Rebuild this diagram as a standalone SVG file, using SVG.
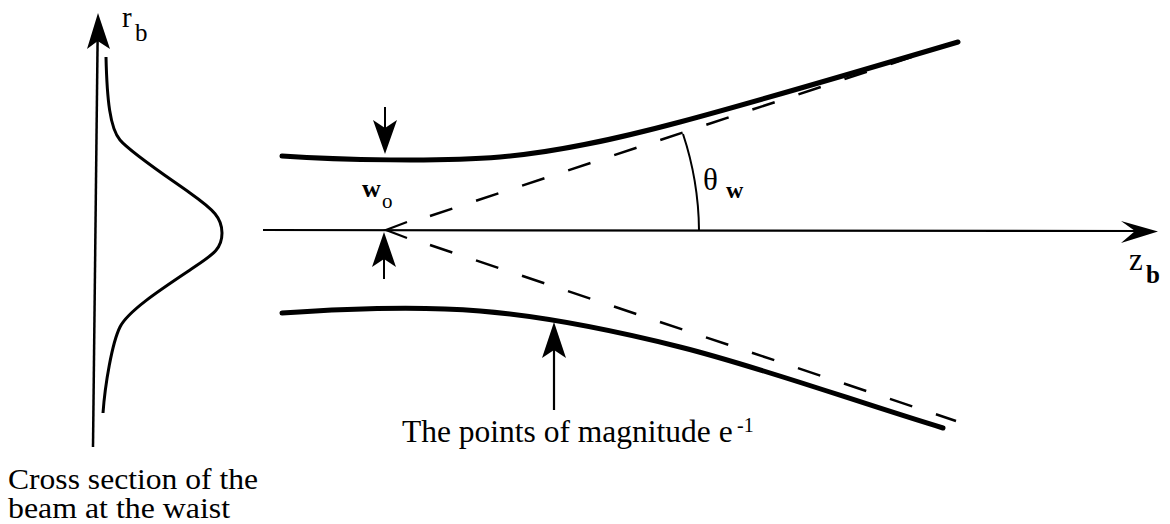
<svg xmlns="http://www.w3.org/2000/svg" width="1170" height="524" viewBox="0 0 1170 524">
<style>
  .t { font-family: "Liberation Serif", "Times New Roman", serif; fill: #000; }
  .ln { fill: none; stroke: #000; }
  .beam { fill: none; stroke: #000; stroke-width: 5; stroke-linecap: round; }
  .dash { fill: none; stroke: #000; stroke-width: 2.5; stroke-dasharray: 23.5 25; }
  .head { fill: #000; stroke: none; }
</style>
<rect width="1170" height="524" fill="#fff"/>

<g id="cross-section">
  <line class="ln" x1="93" y1="447" x2="97.6" y2="40" stroke-width="2.5"/>
  <path class="head" d="M98,13 L110,49 L97.7,41 L87,49 Z"/>
  <path class="ln" stroke-width="3" d="M106,57 C107,100 110,128 120,140 C130,152 166,176 190,193 C214,210 222,218 222,233 C222,250 212,255 190,270 C160,290 128,311 120,327 C112,343 105,385 103,413"/>
  <text class="t" x="122" y="27" font-size="29">r</text>
  <text class="t" x="135" y="41" font-size="25">b</text>
  <text class="t" x="8" y="489" font-size="29" textLength="250" lengthAdjust="spacingAndGlyphs">Cross section of the</text>
  <text class="t" x="8" y="518" font-size="29" textLength="222" lengthAdjust="spacingAndGlyphs">beam at the waist</text>
</g>

<g id="beam">
  <path class="beam" d="M282,156 C340,160 440,162 500,157 C560,152 620,138 680,122 C740,106 860,71 958,42"/>
  <path class="beam" d="M282,313 C340,309 420,306 480,311 C540,316 600,327 680,347 C760,367 860,403 943,428"/>
  <line class="dash" x1="430" y1="216" x2="957" y2="42"/>
  <line class="dash" x1="430" y1="245" x2="956" y2="421"/>
</g>

<g id="z-axis">
  <line class="ln" x1="263" y1="230" x2="1140" y2="231" stroke-width="2.2"/>
  <path class="head" d="M1158,231.5 L1121,221 L1135,231 L1121,243 Z"/>
  <text class="t" x="1129" y="270" font-size="31">z</text>
  <text class="t" x="1146" y="283" font-size="25" font-weight="bold">b</text>
</g>

<g id="waist">
  <text class="t" x="362" y="197" font-size="26" font-weight="bold">w</text>
  <text class="t" x="382" y="208" font-size="21">o</text>
</g>

<g id="angle">
  <path class="ln" stroke-width="2" d="M699,230 A314,314 0 0 0 683,134"/>
  <text class="t" x="703" y="190" font-size="31">θ</text>
  <text class="t" x="726" y="198" font-size="24" font-weight="bold">w</text>
</g>

<g id="magnitude-label">
  <text class="t" x="402" y="442" font-size="31.5">The points of magnitude e</text>
  <text class="t" x="737" y="432" font-size="20">-1</text>
</g>

<g id="connectors">
  <line class="ln" x1="385" y1="107" x2="385" y2="130" stroke-width="2"/>
  <path class="head" d="M385,154 L373,120 L385,128 L397,120 Z"/>
  <line class="ln" x1="384" y1="279" x2="384" y2="255" stroke-width="2"/>
  <path class="head" d="M384,232 L396,267 L384,259 L372,267 Z"/>
  <path class="ln" stroke-width="2.2" d="M407,222 L386,230 L407,238"/>
  <line class="ln" x1="554" y1="410" x2="554" y2="345" stroke-width="2.2"/>
  <path class="head" d="M554,322 L566,358 L554,350 L542,358 Z"/>
</g>
</svg>
